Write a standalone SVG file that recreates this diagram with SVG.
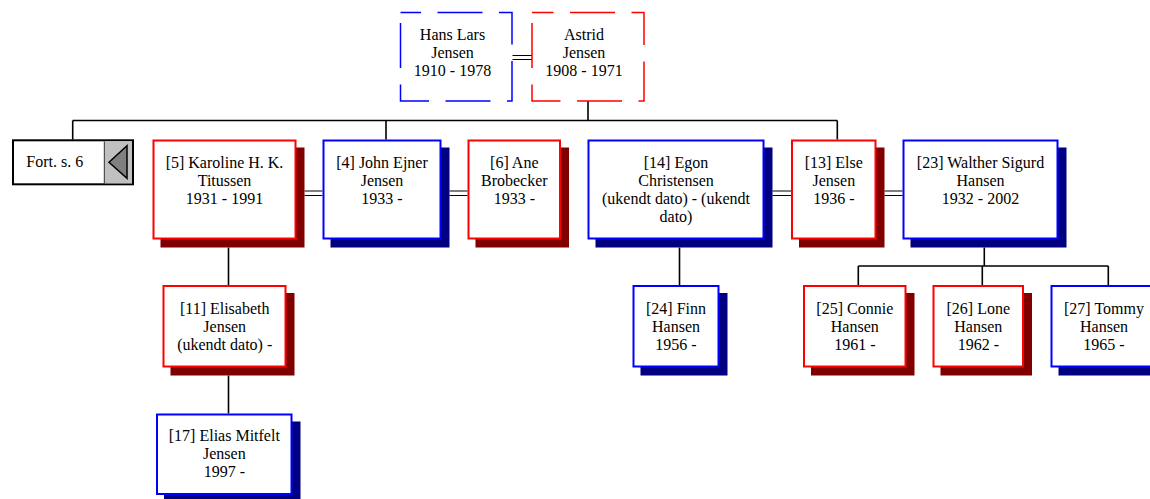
<svg xmlns="http://www.w3.org/2000/svg" width="1150" height="499" viewBox="0 0 1150 499">
<style>
  .m { fill:#fff; stroke:#0000ff; stroke-width:2; }
  .f { fill:#fff; stroke:#ff0000; stroke-width:2; }
  .ms { fill:#000080; }
  .fs { fill:#800000; }
  .dm { fill:#fff; stroke:#0000ff; stroke-width:1.5; stroke-dasharray:45 16.5; stroke-dashoffset:51; }
  .df { fill:#fff; stroke:#ff0000; stroke-width:1.5; stroke-dasharray:45 16.5; stroke-dashoffset:51; }
  text { font-family:"Liberation Serif","Times New Roman",serif; font-size:16px; fill:#000; text-anchor:middle; }
  .c { stroke:#000; stroke-width:1.6; fill:none; }
  .d { stroke:#000; stroke-width:1.2; fill:none; }
</style>
<g id="connectors">
  <path class="c" d="M588,101 V120.5 M72.7,120.5 H837.3 M72.7,120.5 V139.5 M386,120.5 V139.5 M837.3,120.5 V139.5"/>
  <path class="c" d="M228.5,247.5 V285.5 M228.5,375.5 V413.5"/>
  <path class="c" d="M679.5,247.5 V285"/>
  <path class="c" d="M984.3,247.5 V266 M858.3,266 H1108.3 M858.3,266 V285 M982.3,266 V285 M1108.3,266 V285"/>
  <path class="d" d="M512.5,55.5 H532 M512.5,59.5 H532"/>
  <path class="d" d="M304.5,191 H322.5 M304.5,195.5 H322.5"/>
  <path class="d" d="M449.5,191 H467.5 M449.5,195.5 H467.5"/>
  <path class="d" d="M772.5,191 H791 M772.5,195.5 H791"/>
  <path class="d" d="M884.5,191 H902.5 M884.5,195.5 H902.5"/>
</g>
<g id="n-hans">
  <path class="dm" d="M400.5,12.5 V101 H512 V12.5 Z"/>
  <text x="452.5" y="39.5">Hans Lars</text>
  <text x="452.5" y="57.5">Jensen</text>
  <text x="452.5" y="75.5">1910 - 1978</text>
</g>
<g id="n-astrid">
  <path class="df" d="M532,12.5 V101 H644 V12.5 Z"/>
  <text x="584" y="39.5">Astrid</text>
  <text x="584" y="57.5">Jensen</text>
  <text x="584" y="75.5">1908 - 1971</text>
</g>
<g id="n-fort">
  <rect x="13" y="140.3" width="120" height="44" fill="#fff" stroke="#000" stroke-width="2"/>
  <rect x="104.5" y="141.3" width="27.5" height="42" fill="#c0c0c0"/>
  <line x1="104.3" y1="141.3" x2="104.3" y2="183.3" stroke="#000" stroke-width="0.8"/>
  <polygon points="109,162.3 127,145.7 127,178.3" fill="#808080" stroke="#000" stroke-width="1.5"/>
  <text x="54.7" y="166.7">Fort. s. 6</text>
</g>
<g id="n5">
  <rect class="fs" x="160.5" y="147.5" width="144" height="100"/>
  <rect class="f" x="153.5" y="140.5" width="142" height="98"/>
  <text x="224.5" y="167.5">[5] Karoline H. K.</text>
  <text x="224.5" y="185.5">Titussen</text>
  <text x="224.5" y="203.5">1931 - 1991</text>
</g>
<g id="n4">
  <rect class="ms" x="330.5" y="147.5" width="119" height="100"/>
  <rect class="m" x="323.5" y="140.5" width="117" height="98"/>
  <text x="382" y="167.5">[4] John Ejner</text>
  <text x="382" y="185.5">Jensen</text>
  <text x="382" y="203.5">1933 -</text>
</g>
<g id="n6">
  <rect class="fs" x="475.5" y="147.5" width="93.5" height="100"/>
  <rect class="f" x="468.5" y="140.5" width="91.5" height="98"/>
  <text x="514.3" y="167.5">[6] Ane</text>
  <text x="514.3" y="185.5">Brobecker</text>
  <text x="514.3" y="203.5">1933 -</text>
</g>
<g id="n14">
  <rect class="ms" x="595.5" y="147.5" width="177" height="100"/>
  <rect class="m" x="588.5" y="140.5" width="175" height="98"/>
  <text x="676" y="167.5">[14] Egon</text>
  <text x="676" y="185.5">Christensen</text>
  <text x="676" y="203.5">(ukendt dato) - (ukendt</text>
  <text x="676" y="221.5">dato)</text>
</g>
<g id="n13">
  <rect class="fs" x="799" y="147.5" width="85.5" height="100"/>
  <rect class="f" x="792" y="140.5" width="83.5" height="98"/>
  <text x="833.8" y="167.5">[13] Else</text>
  <text x="833.8" y="185.5">Jensen</text>
  <text x="833.8" y="203.5">1936 -</text>
</g>
<g id="n23">
  <rect class="ms" x="910.5" y="147.5" width="156" height="100"/>
  <rect class="m" x="903.5" y="140.5" width="154" height="98"/>
  <text x="980.5" y="167.5">[23] Walther Sigurd</text>
  <text x="980.5" y="185.5">Hansen</text>
  <text x="980.5" y="203.5">1932 - 2002</text>
</g>
<g id="n11">
  <rect class="fs" x="170.5" y="293" width="124" height="82.5"/>
  <rect class="f" x="163.5" y="286" width="122" height="80.5"/>
  <text x="224.7" y="313.5">[11] Elisabeth</text>
  <text x="224.7" y="331.5">Jensen</text>
  <text x="224.7" y="349.5">(ukendt dato) -</text>
</g>
<g id="n24">
  <rect class="ms" x="640.5" y="293" width="87" height="82.5"/>
  <rect class="m" x="633.5" y="286" width="85" height="80.5"/>
  <text x="676" y="313.5">[24] Finn</text>
  <text x="676" y="331.5">Hansen</text>
  <text x="676" y="349.5">1956 -</text>
</g>
<g id="n25">
  <rect class="fs" x="811" y="293" width="103.5" height="82.5"/>
  <rect class="f" x="804" y="286" width="101.5" height="80.5"/>
  <text x="854.8" y="313.5">[25] Connie</text>
  <text x="854.8" y="331.5">Hansen</text>
  <text x="854.8" y="349.5">1961 -</text>
</g>
<g id="n26">
  <rect class="fs" x="940.5" y="293" width="91.5" height="82.5"/>
  <rect class="f" x="933.5" y="286" width="89.5" height="80.5"/>
  <text x="978.3" y="313.5">[26] Lone</text>
  <text x="978.3" y="331.5">Hansen</text>
  <text x="978.3" y="349.5">1962 -</text>
</g>
<g id="n27">
  <rect class="ms" x="1058.5" y="293" width="107" height="82.5"/>
  <rect class="m" x="1051.5" y="286" width="105" height="80.5"/>
  <text x="1104" y="313.5">[27] Tommy</text>
  <text x="1104" y="331.5">Hansen</text>
  <text x="1104" y="349.5">1965 -</text>
</g>
<g id="n17">
  <rect class="ms" x="164" y="421.5" width="136.5" height="81.5"/>
  <rect class="m" x="157" y="414.5" width="134.5" height="79.5"/>
  <text x="224.3" y="441">[17] Elias Mitfelt</text>
  <text x="224.3" y="459">Jensen</text>
  <text x="224.3" y="477">1997 -</text>
</g>
</svg>
